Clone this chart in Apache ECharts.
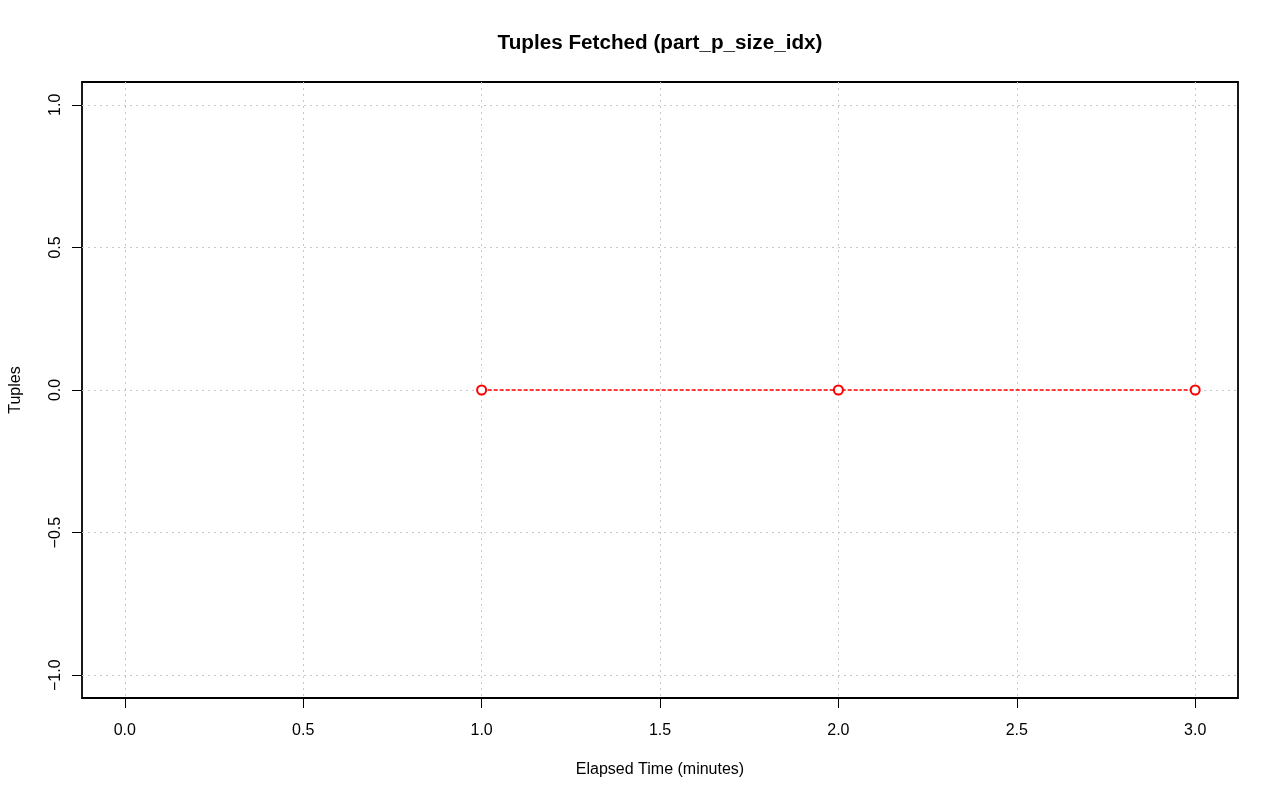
<!DOCTYPE html>
<html><head><meta charset="utf-8">
<script src="https://cdn.jsdelivr.net/npm/echarts@6/dist/echarts.min.js"></script>
<style>html,body{margin:0;padding:0;background:#fff}#c{width:1280px;height:801px}</style>
</head><body><div id="c"></div>
<script>
const elapsed = [1, 2, 3];
const tuples = [0, 0, 0];
const xTicks = [0, 0.5, 1, 1.5, 2, 2.5, 3];
const yTicks = [-1, -0.5, 0, 0.5, 1];
const titleText = 'Tuples Fetched (part_p_size_idx)';
const xName = 'Elapsed Time (minutes)';
const yName = 'Tuples';

const chart = echarts.init(document.getElementById('c'), null, {renderer: 'canvas'});
const font = 'Liberation Sans, Arial, Helvetica, sans-serif';
const xr = 3 - 0, yr = 1 - (-1);
const fmt = v => v.toFixed(1).replace('-', '\u2212');
chart.setOption({
  animation: false,
  backgroundColor: '#fff',
  grid: {left: 82, right: 42, top: 82, bottom: 103, show: true, borderColor: '#000', borderWidth: 1.8, backgroundColor: 'transparent'},
  xAxis: {
    type: 'value', min: 0 - 0.04 * xr, max: 3 + 0.04 * xr,
    axisLine: {show: false, onZero: false},
    axisTick: {show: true, length: 10, inside: false, customValues: xTicks, lineStyle: {color: '#000', width: 1}},
    axisLabel: {customValues: xTicks, margin: 25, fontFamily: font, fontSize: 16, color: '#000', formatter: fmt},
    splitLine: {show: true, lineStyle: {color: '#c8c8c8', type: [2, 4], width: 1}}
  },
  yAxis: {
    type: 'value', min: -1 - 0.04 * yr, max: 1 + 0.04 * yr,
    axisLine: {show: false, onZero: false},
    axisTick: {show: true, length: 10, inside: false, customValues: yTicks, lineStyle: {color: '#000', width: 1}},
    axisLabel: {customValues: yTicks, margin: 18.5, rotate: 90, fontFamily: font, fontSize: 16, color: '#000', formatter: fmt},
    splitLine: {show: true, lineStyle: {color: '#c8c8c8', type: [2, 4], width: 1}}
  },
  graphic: [
    {type: 'text', x: 660, y: 43, style: {text: titleText, font: 'bold 20.7px ' + font, fill: '#000', textAlign: 'center', textVerticalAlign: 'middle'}},
    {type: 'text', x: 660, y: 770, style: {text: xName, font: '16px ' + font, fill: '#000', textAlign: 'center', textVerticalAlign: 'middle'}},
    {type: 'text', x: 16, y: 390, rotation: Math.PI / 2, style: {text: yName, font: '16px ' + font, fill: '#000', textAlign: 'center', textVerticalAlign: 'middle'}}
  ],
  series: [{
    type: 'line', data: elapsed.map((x, i) => [x, tuples[i]]),
    symbol: 'emptyCircle', symbolSize: 9,
    lineStyle: {color: '#ff0000', width: 1.5, type: [4, 2]},
    itemStyle: {color: '#ff0000', borderColor: '#ff0000', borderWidth: 1.5}
  }]
});
</script></body></html>
